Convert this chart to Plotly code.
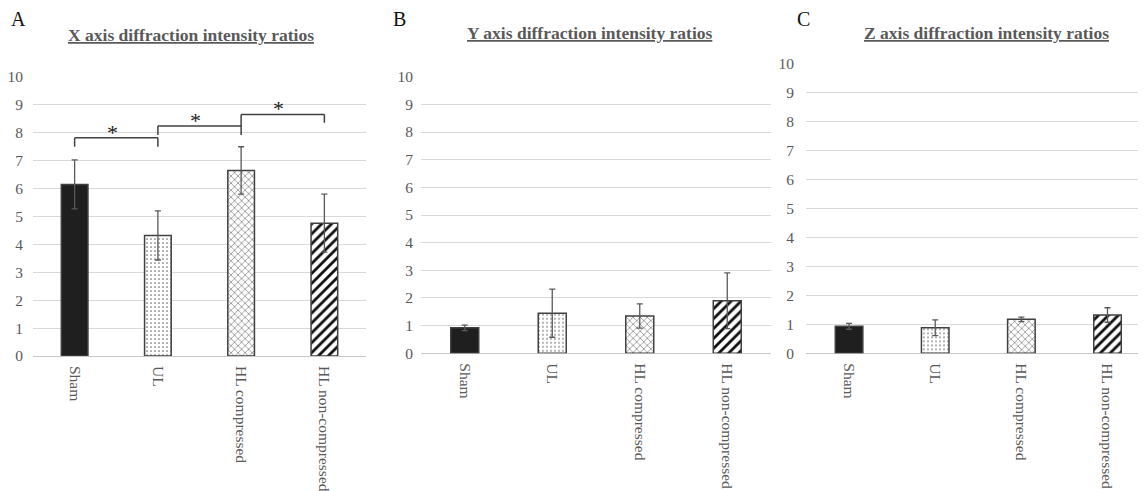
import plotly.graph_objects as go

categories = ["Sham", "UL", "HL compressed", "HL non-compressed"]
tick_vals = list(range(0, 11))

x_means = [6.15, 4.32, 6.65, 4.76]
x_err = [0.88, 0.88, 0.85, 1.04]
y_means = [0.92, 1.45, 1.35, 1.90]
y_err = [0.10, 0.87, 0.44, 1.01]
z_means = [0.93, 0.88, 1.17, 1.32]
z_err = [0.10, 0.27, 0.08, 0.25]

titles = ["X axis diffraction intensity ratios",
          "Y axis diffraction intensity ratios",
          "Z axis diffraction intensity ratios"]
panel_letters = ["A", "B", "C"]

# significance brackets in panel A: (left cat, right cat, top, left leg bottom, right leg bottom)
brackets = [(0, 1, 7.82, 7.50, 7.50),
            (1, 2, 8.24, 7.92, 7.92),
            (2, 3, 8.66, 8.24, 8.36)]

W, H = 1146, 491
OFF = 8  # page body margin
SERIF = "'Liberation Serif', 'Times New Roman', 'DejaVu Serif', serif"
GRAY = "#595959"

def px_x(p):
    return (p - OFF) / W

def px_y(p):
    return 1 - (p - OFF) / H

panels = [
    dict(means=x_means, err=x_err, xdom=(33, 366), ydom=(356, 77), xr=[-0.5, 3.5], standoff=9),
    dict(means=y_means, err=y_err, xdom=(421, 771), ydom=(353.3, 76.7), xr=[-0.5, 3.5], standoff=7),
    dict(means=z_means, err=z_err, xdom=(806, 1148), ydom=(353.3, 63.3), xr=[-0.5, 3.47], standoff=11),
]

styles = [
    dict(color="#1f1f1f", shape="", fg="#1f1f1f", size=6, sol=0.3),
    dict(color="white", shape=".", fg="#707070", size=4, sol=0.15),
    dict(color="white", shape="x", fg="#555555", size=5, sol=0.2),
    dict(color="white", shape="/", fg="#111111", size=7, sol=0.4),
]

fig = go.Figure()

for i, p in enumerate(panels):
    sx = "" if i == 0 else str(i + 1)
    for j, cat in enumerate(categories):
        st = styles[j]
        marker = dict(color=st["color"], line=dict(color="#404040", width=1.5))
        if st["shape"]:
            marker["pattern"] = dict(shape=st["shape"], fgcolor=st["fg"], bgcolor=st["color"],
                                     size=st["size"], solidity=st["sol"], fillmode="replace")
        fig.add_trace(go.Bar(
            x=[cat], y=[p["means"][j]], width=0.32,
            xaxis="x" + sx, yaxis="y" + sx,
            marker=marker,
            error_y=dict(type="data", array=[p["err"][j]], visible=True,
                         color=GRAY, thickness=1.3, width=3),
            showlegend=False,
        ))
    xa = dict(domain=[px_x(p["xdom"][0]), min(1, px_x(p["xdom"][1]))], range=p["xr"],
              anchor="y" + sx, showgrid=False, showline=False, zeroline=False,
              automargin=False, categoryorder="array", categoryarray=categories,
              tickangle=90, ticks="", ticklabelstandoff=9,
              tickfont=dict(family=SERIF, size=15.5, color=GRAY))
    ya = dict(domain=[px_y(p["ydom"][0]), px_y(p["ydom"][1])], range=[0, 10],
              anchor="x" + sx, tickvals=tick_vals, showgrid=True, gridcolor="#d9d9d9",
              gridwidth=1, zeroline=True, zerolinecolor="#c8c8c8", zerolinewidth=1,
              automargin=False,
              showline=False, ticks="", ticklabelstandoff=p["standoff"],
              tickfont=dict(family=SERIF, size=15.5, color=GRAY))
    fig.layout["xaxis" + sx] = xa
    fig.layout["yaxis" + sx] = ya

# titles and panel letters
title_pos = [(191, 35), (589, 33), (986, 33)]
letter_pos = [(18, 19.5), (399, 19.5), (803, 19.5)]
for i in range(3):
    fig.add_annotation(text="<b>" + titles[i] + "</b>", xref="paper", yref="paper",
                       x=px_x(title_pos[i][0]), y=px_y(title_pos[i][1]),
                       xanchor="center", yanchor="middle", showarrow=False,
                       font=dict(family=SERIF, size=17.5, color=GRAY, lineposition="under"))
    fig.add_annotation(text=panel_letters[i], xref="paper", yref="paper",
                       x=px_x(letter_pos[i][0]), y=px_y(letter_pos[i][1]),
                       xanchor="center", yanchor="middle", showarrow=False,
                       font=dict(family=SERIF, size=20, color="#111111"))

# significance brackets
for (a, b, top, lb, rb) in brackets:
    line = dict(color="#404040", width=1.5)
    fig.add_shape(type="line", xref="x", yref="y", x0=a, x1=b, y0=top, y1=top, line=line)
    fig.add_shape(type="line", xref="x", yref="y", x0=a, x1=a, y0=lb, y1=top, line=line)
    fig.add_shape(type="line", xref="x", yref="y", x0=b, x1=b, y0=rb, y1=top, line=line)
    fig.add_annotation(text="*", xref="x", yref="y", x=(a + b) / 2 - 0.05, y=top,
                       xanchor="center", yanchor="bottom", yshift=-9, showarrow=False,
                       font=dict(family=SERIF, size=22, color="#222222"))

fig.update_layout(width=W, height=H, margin=dict(l=0, r=0, t=0, b=0),
                  paper_bgcolor="white", plot_bgcolor="white", barmode="overlay",
                  font=dict(family=SERIF))
fig.write_html("out.html")
